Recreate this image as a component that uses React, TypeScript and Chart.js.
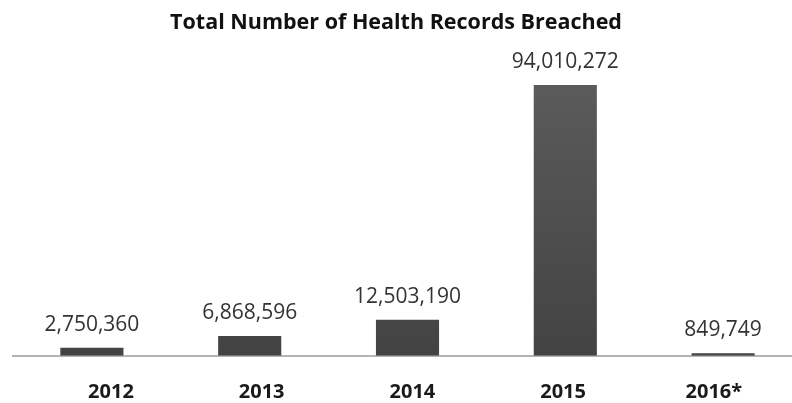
import React, { useEffect, useRef } from "react";
import { Chart, registerables } from "chart.js";

Chart.register(...registerables);

const years = ["2012", "2013", "2014", "2015", "2016*"];
const recordsBreached = [2750360, 6868596, 12503190, 94010272, 849749];
const titleText = "Total Number of Health Records Breached";
const yMax = 100000000;

const FONT = "'Open Sans', 'DejaVu Sans', sans-serif";

const valueLabels = {
  id: "valueLabels",
  afterDatasetsDraw(chart: any) {
    const ctx = chart.ctx;
    const meta = chart.getDatasetMeta(0);
    ctx.save();
    ctx.font = `21px ${FONT}`;
    ctx.fillStyle = "#333333";
    ctx.textAlign = "center";
    ctx.textBaseline = "middle";
    meta.data.forEach((bar: any, i: number) => {
      const v = chart.data.datasets[0].data[i] as number;
      ctx.fillText(v.toLocaleString("en-US"), bar.x, bar.y - 23);
    });
    ctx.restore();
  },
};

export default function App() {
  const ref = useRef<HTMLCanvasElement | null>(null);
  useEffect(() => {
    if (!ref.current) return;
    const chart = new Chart(ref.current, {
      type: "bar",
      data: {
        labels: years,
        datasets: [
          {
            data: recordsBreached,
            backgroundColor: (c: any) => {
              const area = c.chart.chartArea;
              if (!area) return "#4a4a4a";
              const g = c.chart.ctx.createLinearGradient(0, area.top, 0, area.bottom);
              g.addColorStop(0, "#5c5c5c");
              g.addColorStop(1, "#434343");
              return g;
            },
            borderWidth: 0,
            categoryPercentage: 1,
            barPercentage: 0.4,
          },
        ],
      },
      plugins: [valueLabels],
      options: {
        responsive: false,
        animation: false,
        layout: { padding: { left: 0, right: 0, top: 0, bottom: 0 } },
        plugins: {
          legend: { display: false },
          tooltip: { enabled: false },
          title: {
            display: true,
            text: titleText,
            color: "#111111",
            font: { family: FONT, size: 21.5, weight: "bold" },
            padding: { top: 10, bottom: 32 },
          },
        },
        scales: {
          y: {
            display: true,
            min: 0,
            max: yMax,
            ticks: { display: false },
            grid: { display: false },
            border: { display: false },
            afterFit: (s: any) => {
              s.width = 23;
            },
          },
          x: {
            type: "category",
            position: "bottom",
            ticks: { display: false },
            grid: { display: false, drawTicks: false },
            border: { display: true, color: "#b4b4b4", width: 2 },
            afterFit: (s: any) => {
              s.height = 0;
            },
          },
          x2: {
            type: "linear",
            axis: "x",
            position: "bottom",
            offset: false,
            bounds: "data",
            min: -0.65,
            max: 4.585,
            afterBuildTicks: (s: any) => {
              s.ticks = years.map((_, i) => ({ value: i }));
            },
            ticks: {
              padding: 25,
              color: "#1a1a1a",
              font: { family: FONT, size: 20, weight: "bold" },
              callback: (v: any) => years[Math.round(Number(v))] ?? "",
              maxRotation: 0,
              autoSkip: false,
            },
            grid: { display: false, drawTicks: false, offset: false },
            border: { display: false },
            afterFit: (s: any) => {
              s.height = 47.3;
            },
          },
        },
      } as any,
    });
    return () => chart.destroy();
  }, []);

  return (
    <div
      style={{
        position: "absolute",
        left: 0,
        top: 0,
        width: 792,
        height: 403,
        overflow: "hidden",
        background: "#ffffff",
      }}
    >
      <canvas
        ref={ref}
        width={812}
        height={403}
        style={{ position: "absolute", left: -10, top: 0, width: 812, height: 403 }}
      />
    </div>
  );
}
